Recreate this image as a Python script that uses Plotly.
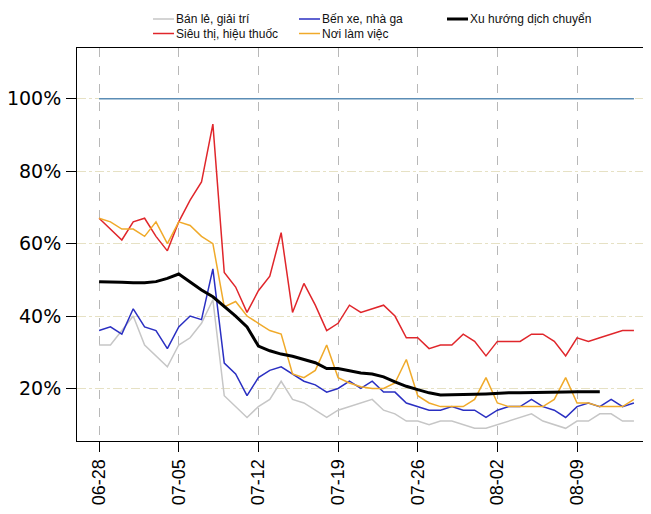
import plotly.graph_objects as go
import pandas as pd

# ---- data (percent of baseline) ----
start_date = "2020-06-28"
n_days = 48
dates = pd.date_range(start_date, periods=n_days, freq="D")

retail = [32, 32, 36, 40, 32, 29, 26, 32, 34, 38, 44.5,
          18, 15, 12, 15, 17, 22, 17, 16, 14, 12, 14, 15, 16, 17,
          14, 13, 11, 11, 10, 11, 11, 10, 9, 9, 10, 11, 12, 13,
          11, 10, 9, 11, 11, 13, 13, 11, 11]
grocery = [67, 64, 61, 66, 67, 62, 58, 66, 72, 77, 93,
           52, 48, 41, 47, 51, 63, 41, 49, 43, 36, 38, 43, 41, 42,
           43, 40, 34, 34, 31, 32, 32, 35, 33, 29, 33, 33, 33, 35,
           35, 33, 29, 34, 33, 34, 35, 36, 36]
transit = [36, 37, 35, 42, 37, 36, 31, 37, 40, 39, 53,
           27, 24, 18, 23, 25, 26, 24, 22, 21, 19, 20, 22, 20, 22,
           19, 19, 16, 15, 14, 14, 15, 14, 14, 12, 14, 15, 15, 17,
           15, 14, 12, 15, 16, 15, 17, 15, 16]
workplace = [67, 66, 64, 64, 62, 66, 60, 66, 65, 62, 60,
             42.5, 44, 40, 38, 36, 35, 24, 23, 25, 32, 23, 21.5, 20.5, 20,
             20, 21.5, 28, 18, 16, 15, 15, 15, 17, 23, 16, 15, 15, 15,
             15, 17, 23, 16, 16, 15, 15, 15, 17]
trend = [49.5, 49.5, 49.3, 49.2, 49.2, 49.5, 50.4, 51.6, 49.4, 47.2, 45.3,
         42.7, 40, 37, 31.7, 30.4, 29.5, 28.9, 28, 27.1, 25.5, 25.5, 24.9,
         24.3, 24, 23.2, 21.8, 20.6, 19.7, 18.8, 18.2, 18.2, 18.2, 18.4,
         18.5, 18.7, 18.8, 18.8, 18.9, 19, 19, 19, 19.1, 19.1, 19.1]
baseline_value = 100

y_ticks = [20, 40, 60, 80, 100]
y_ticktext = ["20%", "40%", "60%", "80%", "100%"]

names = ["Bán lẻ, giải trí", "Siêu thị, hiệu thuốc", "Bến xe, nhà ga",
         "Nơi làm việc", "Xu hướng dịch chuyển"]
colors = {"retail": "#c6c6c6", "grocery": "#e0262b", "transit": "#2a2fc2",
          "workplace": "#f0aa2a", "trend": "#000000", "base": "#5b8db5"}

FONT = "Liberation Sans, Arial, sans-serif"
FONT_Y = "DejaVu Sans, sans-serif"

fig = go.Figure()
fig.add_trace(go.Scatter(x=[dates[0], dates[-1]], y=[baseline_value, baseline_value],
                         mode="lines", line=dict(color=colors["base"], width=1.5),
                         showlegend=False, hoverinfo="skip"))
fig.add_trace(go.Scatter(x=dates, y=retail, mode="lines", name=names[0],
                         line=dict(color=colors["retail"], width=1.5)))
fig.add_trace(go.Scatter(x=dates, y=grocery, mode="lines", name=names[1],
                         line=dict(color=colors["grocery"], width=1.5)))
fig.add_trace(go.Scatter(x=dates, y=transit, mode="lines", name=names[2],
                         line=dict(color=colors["transit"], width=1.5)))
fig.add_trace(go.Scatter(x=dates, y=workplace, mode="lines", name=names[3],
                         line=dict(color=colors["workplace"], width=1.5)))
fig.add_trace(go.Scatter(x=dates[:len(trend)], y=trend, mode="lines", name=names[4],
                         line=dict(color=colors["trend"], width=3)))

# ---- geometry (page pixels; the page body has an 8px margin) ----
OFF = 8
W, H = 651 - OFF, 514 - OFF
ML, MR, MT, MB = 77 - OFF, 0, 48 - OFF, 73
PW = W - ML - MR
PH = H - MT - MB

def px_x(X):
    return (X - OFF - ML) / PW

def px_y(Y):
    return (OFF + H - MB - Y) / PH

# ---- manual legend ----
legend_items = [
    (153, 19, names[0], colors["retail"], 1.5),
    (153, 33.5, names[1], colors["grocery"], 1.5),
    (299, 19, names[2], colors["transit"], 1.5),
    (299, 33.5, names[3], colors["workplace"], 1.5),
    (447, 19, names[4], colors["trend"], 3),
]
shapes = []
annotations = []
for X, Y, label, col, w in legend_items:
    shapes.append(dict(type="line", xref="paper", yref="paper",
                       x0=px_x(X), x1=px_x(X + 21), y0=px_y(Y), y1=px_y(Y),
                       line=dict(color=col, width=w)))
    annotations.append(dict(xref="paper", yref="paper", x=px_x(X + 21),
                            y=px_y(Y), text=label, showarrow=False,
                            xanchor="left", yanchor="middle",
                            font=dict(family=FONT, size=12, color="#111111")))

fig.update_layout(
    width=W, height=H,
    margin=dict(l=ML, r=MR, t=MT, b=MB, pad=0, autoexpand=False),
    paper_bgcolor="white", plot_bgcolor="white",
    showlegend=False,
    shapes=shapes, annotations=annotations,
    font=dict(family=FONT, size=18, color="black"),
)
fig.update_xaxes(
    type="date",
    range=["2020-06-26 01:26", "2020-08-15 12:00"],
    tick0=start_date, dtick=7 * 24 * 3600 * 1000,
    tickformat="%m-%d", tickangle=-90,
    ticks="outside", ticklen=10, tickcolor="black", tickwidth=1,
    showline=True, linecolor="black", linewidth=1, mirror=True,
    showgrid=True, gridcolor="#b8b8b8", griddash="dash", gridwidth=1,
    zeroline=False, automargin=False,
    tickfont=dict(family=FONT, size=18, color="black"),
)
fig.update_yaxes(
    range=[5.5, 114],
    tickvals=y_ticks, ticktext=y_ticktext,
    ticks="outside", ticklen=10, tickcolor="black", tickwidth=1,
    showline=True, linecolor="black", linewidth=1, mirror=False,
    showgrid=True, gridcolor="#e6e1c4", griddash="dashdot", gridwidth=1,
    zeroline=False, automargin=False, ticklabelstandoff=1,
    tickfont=dict(family=FONT_Y, size=19, color="black"),
)

fig.write_html("out.html")
